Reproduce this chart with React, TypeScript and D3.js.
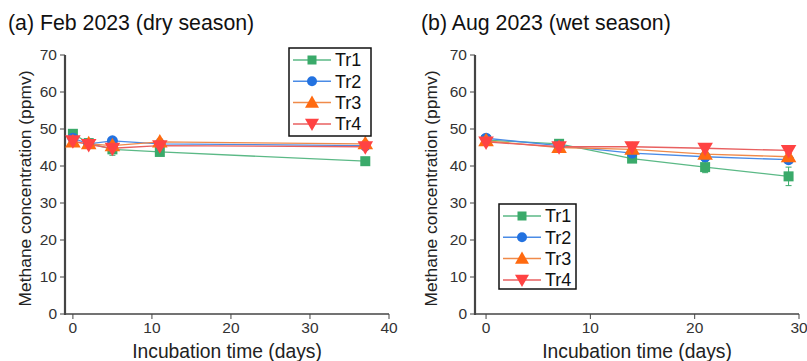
import React from "react";
import * as d3 from "d3";

const seriesNames = ["Tr1", "Tr2", "Tr3", "Tr4"];
const colors = ["#3aaa6a", "#2372e0", "#ff6a10", "#ff4343"];
const lineColors = ["#5bb986", "#4a8be6", "#f08a4a", "#e86060"];
const shapes = ["square", "circle", "triangle", "triangleDown"];

const daysA = [0, 2, 5, 11, 37];
const tr1A = [48.7, 46.2, 44.5, 43.8, 41.3];
const tr2A = [47.5, 46.0, 46.8, 46.0, 45.5];
const tr3A = [46.5, 46.0, 45.5, 46.5, 46.0];
const tr4A = [46.8, 45.8, 44.8, 45.5, 45.2];
const errA1 = [0.8, 0.8, 1.6, 1.0, 0.6];
const errA2 = [0.8, 0.6, 0.6, 0.6, 0.6];
const errA3 = [0.8, 0.8, 0.8, 0.8, 0.8];
const errA4 = [1.2, 1.0, 1.4, 1.5, 0.9];

const daysB = [0, 7, 14, 21, 29];
const tr1B = [47.0, 46.0, 42.0, 39.7, 37.2];
const tr2B = [47.5, 45.5, 43.5, 42.5, 41.7];
const tr3B = [46.8, 45.0, 44.5, 43.2, 42.5];
const tr4B = [46.5, 45.2, 45.2, 44.8, 44.2];
const errB1 = [0.6, 0.6, 0.8, 1.5, 2.5];
const errB2 = [0.6, 0.6, 0.8, 0.8, 0.8];
const errB3 = [0.6, 0.8, 0.8, 0.8, 0.9];
const errB4 = [0.8, 0.8, 0.8, 0.8, 0.8];

const yTicks = [0, 10, 20, 30, 40, 50, 60, 70];
const xTicksA = [0, 10, 20, 30, 40];
const xTicksB = [0, 10, 20, 30];

const FONT = "'Liberation Sans', Arial, sans-serif";

function Marker({ shape, x, y, color, size = 5 }: any) {
  if (shape === "square")
    return <rect x={x - size} y={y - size} width={size * 2} height={size * 2} fill={color} />;
  if (shape === "circle") return <circle cx={x} cy={y} r={size + 0.5} fill={color} />;
  const sym = d3.symbol().type(d3.symbolTriangle).size(size * size * 4.2)();
  if (shape === "triangle")
    return <path d={sym as string} transform={`translate(${x},${y + 1})`} fill={color} />;
  return <path d={sym as string} transform={`translate(${x},${y - 1}) rotate(180)`} fill={color} />;
}

function Panel({ title, titleX, labelX, left, right, xDomain, xTicks, days, values, errs, legend }: any) {
  const top = 55;
  const bottom = 314;
  const x = d3.scaleLinear().domain(xDomain).range([left, right]);
  const y = d3.scaleLinear().domain([0, 70]).range([bottom, top]);
  const line = d3
    .line<number>()
    .x((_, i) => x(days[i]))
    .y((d) => y(d));
  const axisColor = "#444";
  const textColor = "#333";
  return (
    <g>
      <text x={titleX} y={30} fontSize={21.3} fontFamily={FONT} fill="#111">
        {title}
      </text>
      {/* y axis */}
      <line x1={left} x2={left} y1={top} y2={bottom + 1} stroke={axisColor} strokeWidth={2.2} />
      {yTicks.map((t) => (
        <g key={t}>
          <line x1={left - 5} x2={left} y1={y(t)} y2={y(t)} stroke={axisColor} strokeWidth={1} />
          <text
            x={left - 8}
            y={y(t)}
            dy="0.35em"
            textAnchor="end"
            fontSize={15.5}
            fontFamily={FONT}
            fill={textColor}
          >
            {t}
          </text>
        </g>
      ))}
      {/* x axis */}
      <line x1={left} x2={right} y1={bottom} y2={bottom} stroke={axisColor} strokeWidth={1.5} />
      {xTicks.map((t: number) => (
        <g key={t}>
          <line x1={x(t)} x2={x(t)} y1={bottom} y2={bottom + 5} stroke={axisColor} strokeWidth={1} />
          <text
            x={x(t)}
            y={bottom + 19}
            textAnchor="middle"
            fontSize={15.5}
            fontFamily={FONT}
            fill={textColor}
          >
            {t}
          </text>
        </g>
      ))}
      <text
        x={(left + right) / 2}
        y={bottom + 44}
        textAnchor="middle"
        fontSize={19.3}
        fontFamily={FONT}
        fill="#222"
      >
        Incubation time (days)
      </text>
      <text
        transform={`translate(${labelX},${(top + bottom) / 2 + 4}) rotate(-90)`}
        textAnchor="middle"
        dy="0.35em"
        fontSize={17.4}
        fontFamily={FONT}
        fill="#222"
      >
        Methane concentration (ppmv)
      </text>
      {/* lines */}
      {values.map((vals: number[], s: number) => (
        <path
          key={"l" + s}
          d={line(vals) as string}
          fill="none"
          stroke={lineColors[s]}
          strokeWidth={1.3}
        />
      ))}
      {/* error bars */}
      {values.map((vals: number[], s: number) =>
        vals.map((v, i) => {
          const e = errs[s][i];
          const cx = x(days[i]);
          return (
            <g key={"e" + s + "-" + i} stroke={colors[s]} strokeWidth={1}>
              <line x1={cx} x2={cx} y1={y(v - e)} y2={y(v + e)} />
              <line x1={cx - 3} x2={cx + 3} y1={y(v - e)} y2={y(v - e)} />
              <line x1={cx - 3} x2={cx + 3} y1={y(v + e)} y2={y(v + e)} />
            </g>
          );
        })
      )}
      {values.map((vals: number[], s: number) =>
        vals.map((v, i) => (
          <Marker key={"m" + s + "-" + i} shape={shapes[s]} x={x(days[i])} y={y(v)} color={colors[s]} />
        ))
      )}
      {/* legend */}
      <rect
        x={legend.x}
        y={legend.y}
        width={legend.w}
        height={legend.h}
        fill="white"
        stroke="#111"
        strokeWidth={1.5}
      />
      {seriesNames.map((n, s) => {
        const ly = legend.y + 12 + s * 21.3;
        const lx = legend.x + 4;
        return (
          <g key={"lg" + s}>
            <line x1={lx} x2={lx + 38} y1={ly} y2={ly} stroke={lineColors[s]} strokeWidth={1.5} />
            <Marker shape={shapes[s]} x={lx + 19} y={ly} color={colors[s]} size={4.5} />
            <text x={lx + 42} y={ly} dy="0.36em" fontSize={18} fontFamily={FONT} fill="#111">
              {n}
            </text>
          </g>
        );
      })}
    </g>
  );
}

export default function App() {
  return (
    <svg width={807} height={361} style={{ position: "absolute", left: 0, top: 0, background: "white" }}>
      <rect width={807} height={361} fill="white" />
      <Panel
        title="(a) Feb 2023 (dry season)"
        titleX={8}
        labelX={25}
        left={65}
        right={389}
        xDomain={[-1, 40]}
        xTicks={xTicksA}
        days={daysA}
        values={[tr1A, tr2A, tr3A, tr4A]}
        errs={[errA1, errA2, errA3, errA4]}
        legend={{ x: 289, y: 48, w: 82, h: 88 }}
      />
      <Panel
        title="(b) Aug 2023 (wet season)"
        titleX={421}
        labelX={431}
        left={475}
        right={799}
        xDomain={[-1.06, 30]}
        xTicks={xTicksB}
        days={daysB}
        values={[tr1B, tr2B, tr3B, tr4B]}
        errs={[errB1, errB2, errB3, errB4]}
        legend={{ x: 499, y: 204, w: 77, h: 85 }}
      />
    </svg>
  );
}
